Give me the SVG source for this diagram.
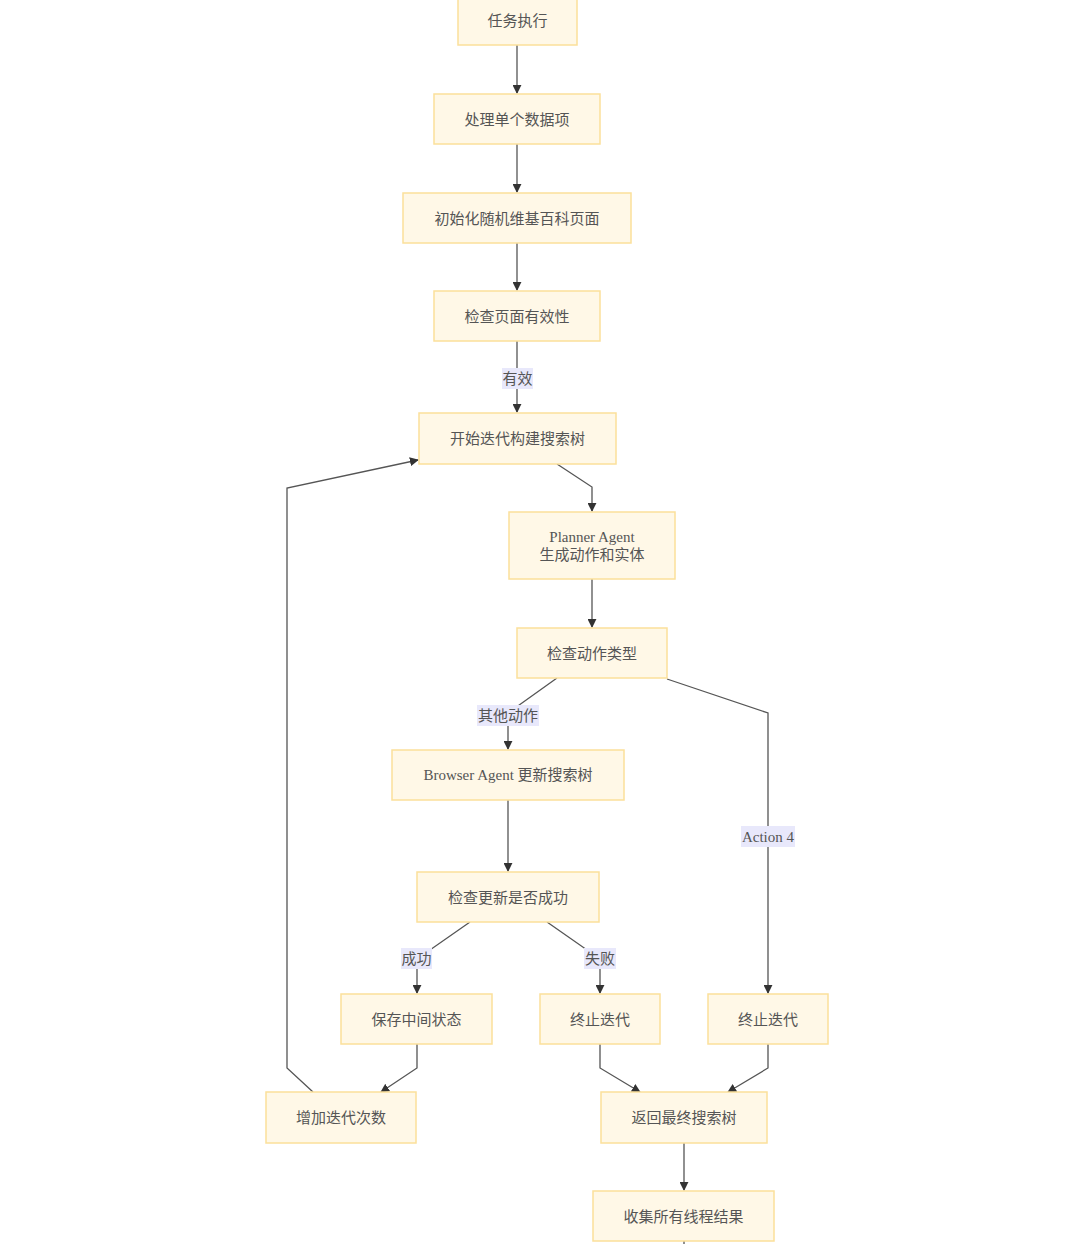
<svg xmlns="http://www.w3.org/2000/svg" width="1080" height="1244" viewBox="0 0 1080 1244">
<style>
.n rect{fill:#fff8e7;stroke:#fbe09a;stroke-width:1.5}
.n text{font-family:"Liberation Serif","Noto Sans CJK SC",serif;font-size:15px;fill:#555;text-anchor:middle;dominant-baseline:central}
.e path{fill:none;stroke:#555;stroke-width:1.3}
.l rect{fill:#e8e8fb}
.l text{font-family:"Liberation Serif","Noto Sans CJK SC",serif;font-size:15px;fill:#555;text-anchor:middle;dominant-baseline:central}
</style>
<defs>
<marker id="a" viewBox="0 0 10 10" refX="9" refY="5" markerWidth="9" markerHeight="9" markerUnits="userSpaceOnUse" orient="auto">
<path d="M0,0L10,5L0,10z" fill="#333"/>
</marker>
</defs>
<rect width="1080" height="1244" fill="#fff"/>
<g class="e">
<path d="M517,45V93" marker-end="url(#a)"/>
<path d="M517,144V192" marker-end="url(#a)"/>
<path d="M517,243V290" marker-end="url(#a)"/>
<path d="M517,341V412" marker-end="url(#a)"/>
<path d="M557,464L592,487V511" marker-end="url(#a)"/>
<path d="M592,579V627" marker-end="url(#a)"/>
<path d="M557,678L508,713V749" marker-end="url(#a)"/>
<path d="M667,679L768,713V993" marker-end="url(#a)"/>
<path d="M508,800V871" marker-end="url(#a)"/>
<path d="M470,922L417,959V993" marker-end="url(#a)"/>
<path d="M547,922L600,959V993" marker-end="url(#a)"/>
<path d="M417,1044V1068L381,1092" marker-end="url(#a)"/>
<path d="M313,1092L287,1068V488L418,460" marker-end="url(#a)"/>
<path d="M600,1044V1068L640,1092" marker-end="url(#a)"/>
<path d="M768,1044V1068L728,1092" marker-end="url(#a)"/>
<path d="M684,1143V1190" marker-end="url(#a)"/>
<path d="M684,1241V1244"/>
</g>
<g class="l">
<g id="l1"><rect x="502" y="368" width="31" height="21"/><text x="517.5" y="379">有效</text></g>
<g id="l2"><rect x="477" y="705" width="62" height="21"/><text x="508" y="716">其他动作</text></g>
<g id="l3"><rect x="741" y="826" width="54" height="21"/><text x="768" y="837">Action 4</text></g>
<g id="l4"><rect x="401" y="948" width="31" height="21"/><text x="416.5" y="959">成功</text></g>
<g id="l5"><rect x="584" y="948" width="32" height="21"/><text x="600" y="959">失败</text></g>
</g>
<g id="n1" class="n"><rect x="458" y="-5" width="119" height="50"/><text x="517.5" y="21">任务执行</text></g>
<g id="n2" class="n"><rect x="434" y="94" width="166" height="50"/><text x="517" y="120">处理单个数据项</text></g>
<g id="n3" class="n"><rect x="403" y="193" width="228" height="50"/><text x="517" y="219">初始化随机维基百科页面</text></g>
<g id="n4" class="n"><rect x="434" y="291" width="166" height="50"/><text x="517" y="317">检查页面有效性</text></g>
<g id="n5" class="n"><rect x="419" y="413" width="197" height="51"/><text x="517.5" y="439">开始迭代构建搜索树</text></g>
<g id="n6" class="n"><rect x="509" y="512" width="166" height="67"/><text x="592" y="537">Planner Agent</text><text x="592" y="555">生成动作和实体</text></g>
<g id="n7" class="n"><rect x="517" y="628" width="150" height="50"/><text x="592" y="654">检查动作类型</text></g>
<g id="n8" class="n"><rect x="392" y="750" width="232" height="50"/><text x="508" y="775">Browser Agent 更新搜索树</text></g>
<g id="n9" class="n"><rect x="417" y="872" width="182" height="50"/><text x="508" y="898">检查更新是否成功</text></g>
<g id="n10" class="n"><rect x="341" y="994" width="151" height="50"/><text x="416.5" y="1020">保存中间状态</text></g>
<g id="n11" class="n"><rect x="540" y="994" width="120" height="50"/><text x="600" y="1020">终止迭代</text></g>
<g id="n12" class="n"><rect x="708" y="994" width="120" height="50"/><text x="768" y="1020">终止迭代</text></g>
<g id="n13" class="n"><rect x="266" y="1092" width="150" height="51"/><text x="341" y="1118">增加迭代次数</text></g>
<g id="n14" class="n"><rect x="601" y="1092" width="166" height="51"/><text x="684" y="1118">返回最终搜索树</text></g>
<g id="n15" class="n"><rect x="593" y="1191" width="181" height="50"/><text x="683.5" y="1217">收集所有线程结果</text></g>
</svg>
